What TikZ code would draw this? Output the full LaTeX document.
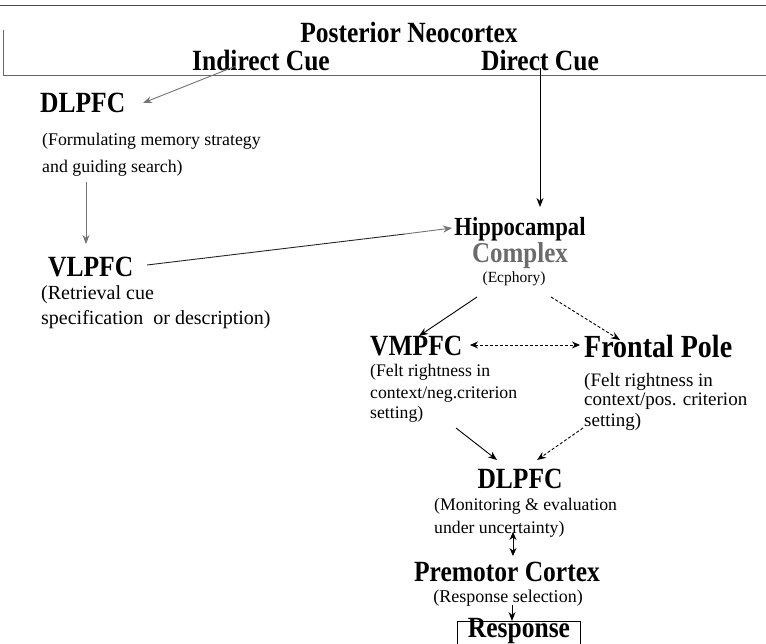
\documentclass[tikz,border=0pt]{standalone}
\usepackage{fontspec}
\usepackage{graphicx}
\setmainfont{Liberation Serif}
\usetikzlibrary{arrows.meta,calc}
\definecolor{arrgray}{gray}{0.45}
\definecolor{cgray}{gray}{0.42}
\newcommand{\vs}[1]{\scalebox{1}[1.15]{#1}}
\newcommand{\lines}[1]{\begin{tabular}[t]{@{}l@{}}#1\end{tabular}}
\begin{document}
\begin{tikzpicture}[x=1pt,y=-1pt,
  head/.style={font=\bfseries\fontsize{25.5}{28}\selectfont, inner sep=0pt},
  desc/.style={inner sep=0pt, anchor=base west},
  arr/.style={-{Stealth[length=9pt,width=7pt]}, line width=0.9pt},
  garr/.style={arr, draw=arrgray},
  darr/.style={arr, dash pattern=on 3pt off 2pt},
  dbl/.style={{Stealth[length=8pt,width=7pt]}-{Stealth[length=8pt,width=7pt]}, line width=0.9pt}]
\useasboundingbox (0,0) rectangle (766,644);
% frame of posterior neocortex
\draw[line width=0.8pt, black!70] (0,5) -- (766,5);
\draw[line width=0.6pt, black!60] (3,30) -- (3,75) -- (766,75);
\node[head] (post) at (409,32) {\vs{Posterior Neocortex}};
\node[head] (indirect) at (261,61) {\vs{Indirect Cue}};
\node[head] (direct) at (540,61) {\vs{Direct Cue}};
% left column
\node[head, anchor=west] (dl1) at (40,103) {\vs{DLPFC}};
\node[desc, font=\fontsize{17.8}{27}\selectfont] (dl1d) at (42,146) {\lines{(Formulating memory strategy\\and guiding search)}};
\node[head, anchor=west] (vl) at (48,267) {\vs{VLPFC}};
\node[desc, font=\fontsize{20}{25}\selectfont] (vld) at (41,300) {\lines{(Retrieval cue\\specification\ \ or description)}};
% hippocampal
\node[head, font=\bfseries\fontsize{22.7}{26}\selectfont] (hip) at (520,229) {\vs{Hippocampal}};
\node[head, font=\bfseries\fontsize{25}{28}\selectfont, text=cgray] (comp) at (520,256) {\vs{Complex}};
\node[font=\fontsize{15.5}{18}\selectfont, inner sep=0pt] (ecph) at (514,279) {(Ecphory)};
% middle row
\node[head, anchor=west] (vm) at (370,346) {\vs{VMPFC}};
\node[desc, font=\fontsize{17.7}{21}\selectfont] (vmd) at (370,377) {\lines{(Felt rightness in\\context/neg.criterion\\setting)}};
\node[head, anchor=west, font=\bfseries\fontsize{28}{30}\selectfont] (fp) at (584,346) {\vs{Frontal Pole}};
\node[desc, font=\fontsize{19}{20}\selectfont] (fpd) at (584,386) {\lines{(Felt rightness in\\context/pos. criterion\\setting)}};
% bottom
\node[head] (dl2) at (520,479) {\vs{DLPFC}};
\node[desc, font=\fontsize{17.7}{23}\selectfont] (dl2d) at (434,510) {\lines{(Monitoring \& evaluation\\under uncertainty)}};
\node[head] (pm) at (507,572) {\vs{Premotor Cortex}};
\node[font=\fontsize{18}{20}\selectfont, inner sep=0pt] (rs) at (508,598) {(Response selection)};
\node[draw, line width=0.8pt, minimum width=123pt, minimum height=40pt, anchor=north, inner sep=0pt] (resp) at (519,621) {};
\node[head, anchor=base] (resptxt) at (519,637) {\vs{Response}};
% connectors
\coordinate (c1) at (236,66);
\coordinate (t1) at (143,103);
\draw[garr] (c1) -- (t1);
\coordinate (c3) at (86,182);
\coordinate (t3) at (86,244);
\draw[garr] (c3) -- (t3);
\coordinate (c2) at (147,265);
\coordinate (m2) at (405,234);
\coordinate (t2) at (452,228);
\draw[line width=0.9pt, black!85] (c2) -- (m2);
\draw[garr] (m2) -- (t2);
\coordinate (c4) at (540,68);
\coordinate (t4) at (540,207);
\draw[arr] (c4) -- (t4);
\coordinate (c5) at (477,297);
\coordinate (t5) at (419,336);
\draw[arr] (c5) -- (t5);
\coordinate (c6) at (551,297);
\coordinate (t6) at (620,340);
\draw[darr] (c6) -- (t6);
\coordinate (c7) at (470,345);
\coordinate (t7) at (580,345);
\draw[dbl, dash pattern=on 3pt off 2pt] (c7) -- (t7);
\coordinate (c8) at (456,428);
\coordinate (t8) at (497,460);
\draw[arr] (c8) -- (t8);
\coordinate (c9) at (583,428);
\coordinate (t9) at (537,460);
\draw[darr] (c9) -- (t9);
\coordinate (c10) at (513,532);
\coordinate (t10) at (513,556);
\draw[dbl] (c10) -- (t10);
\coordinate (c11) at (512,605);
\draw[arr] (c11) -- (c11 |- resp.north);
\end{tikzpicture}
\end{document}
